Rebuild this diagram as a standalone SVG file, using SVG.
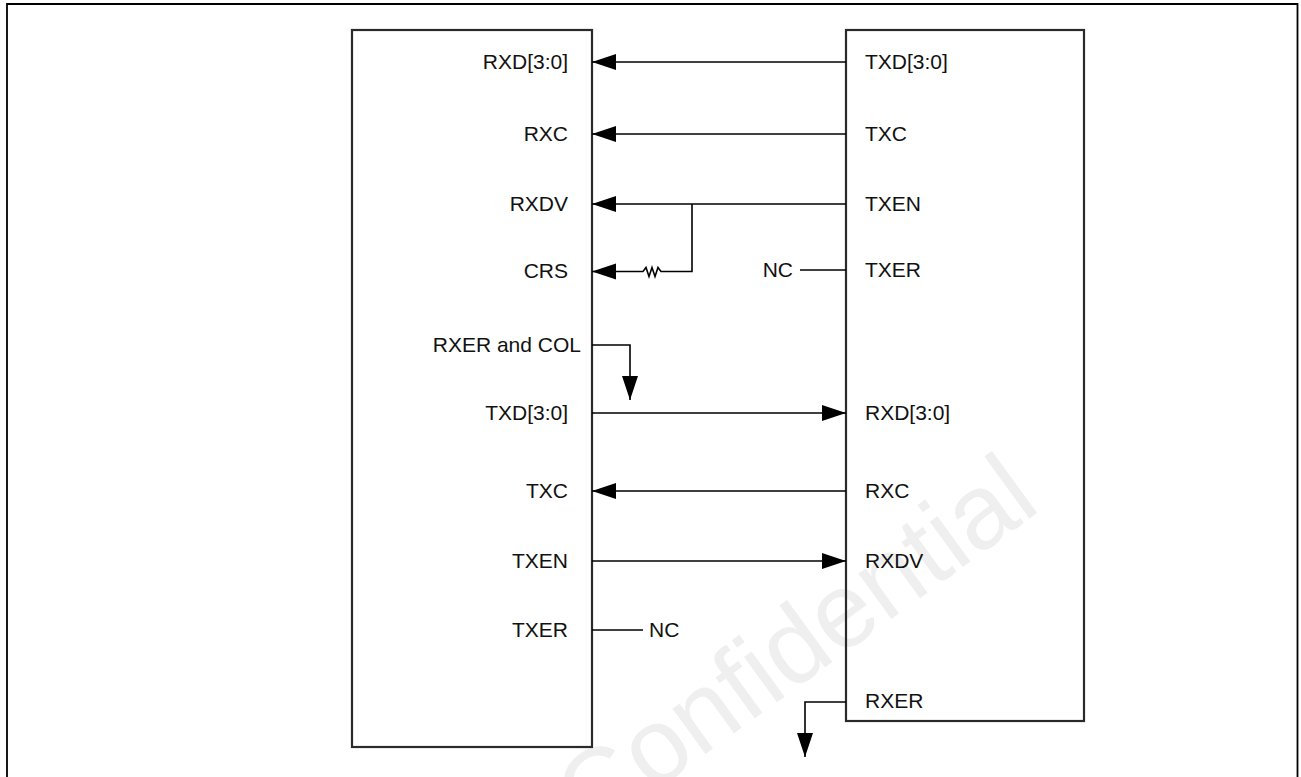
<svg xmlns="http://www.w3.org/2000/svg" width="1301" height="777" viewBox="0 0 1301 777">
<style>
text{font-family:"Liberation Sans",Arial,sans-serif;font-size:21px;fill:#111}
.l{text-anchor:end}
.box{fill:none;stroke:#2a2a2a;stroke-width:2.2}
.w{fill:none;stroke:#000;stroke-width:1.6}
.wm{font-size:106px;fill:#efefef}
</style>
<defs>
<marker id="ah" markerUnits="userSpaceOnUse" markerWidth="26" markerHeight="18" refX="24" refY="8" orient="auto">
<path d="M0,0 L24,8 L0,16 Z" fill="#000"/>
</marker>
</defs>
<rect width="1301" height="777" fill="#fff"/>
<text class="wm" transform="translate(590,838) rotate(-36)">Confidential</text>
<path d="M7,800 V4 H1297.5 V800" fill="none" stroke="#000" stroke-width="1.8"/>
<g id="left">
<rect class="box" x="352" y="30" width="240" height="717"/>
<text class="l" x="568" y="69">RXD[3:0]</text>
<text class="l" x="568" y="141">RXC</text>
<text class="l" x="568" y="211">RXDV</text>
<text class="l" x="568" y="278">CRS</text>
<text class="l" x="581" y="352">RXER and COL</text>
<text class="l" x="568" y="420">TXD[3:0]</text>
<text class="l" x="568" y="498">TXC</text>
<text class="l" x="568" y="568">TXEN</text>
<text class="l" x="568" y="637">TXER</text>
</g>
<g id="right">
<rect class="box" x="846" y="30" width="238" height="691"/>
<text x="865" y="69">TXD[3:0]</text>
<text x="865" y="141">TXC</text>
<text x="865" y="211">TXEN</text>
<text x="865" y="277">TXER</text>
<text x="865" y="420">RXD[3:0]</text>
<text x="865" y="498">RXC</text>
<text x="865" y="568">RXDV</text>
<text x="865" y="708">RXER</text>
</g>
<g id="nc-labels">
<text x="793" y="277" class="l">NC</text>
<text x="649" y="637">NC</text>
</g>
<g id="connectors">
<line class="w" x1="846" y1="62" x2="592" y2="62" marker-end="url(#ah)"/>
<line class="w" x1="846" y1="134" x2="592" y2="134" marker-end="url(#ah)"/>
<line class="w" x1="846" y1="204" x2="592" y2="204" marker-end="url(#ah)"/>
<path class="w" d="M692,204 V271.5 H661 L658,267.5 L655,276.5 L652,267.5 L649,276.5 L646,267.5 L643,271.5 H592" marker-end="url(#ah)"/>
<line class="w" x1="800" y1="270" x2="846" y2="270"/>
<path class="w" d="M592,345 H630 V400" marker-end="url(#ah)"/>
<line class="w" x1="592" y1="413" x2="846" y2="413" marker-end="url(#ah)"/>
<line class="w" x1="846" y1="491" x2="592" y2="491" marker-end="url(#ah)"/>
<line class="w" x1="592" y1="561" x2="846" y2="561" marker-end="url(#ah)"/>
<line class="w" x1="592" y1="630" x2="643" y2="630"/>
<path class="w" d="M846,702 H805 V757" marker-end="url(#ah)"/>
</g>
</svg>
